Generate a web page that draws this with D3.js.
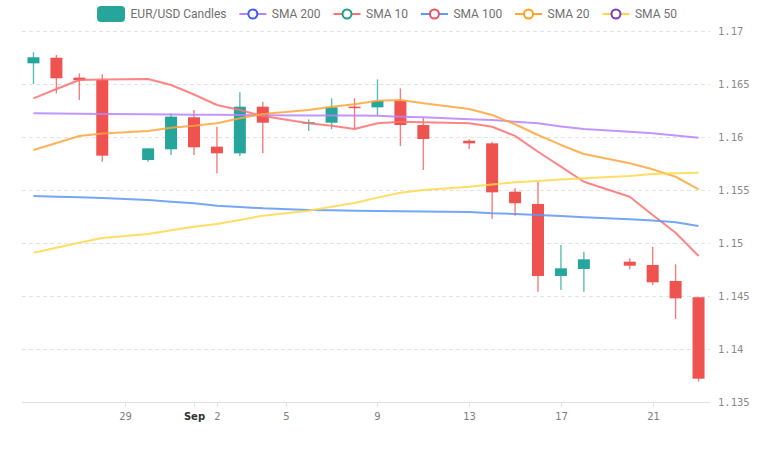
<!DOCTYPE html>
<html>
<head>
<meta charset="utf-8">
<script src="https://cdn.jsdelivr.net/npm/d3@7"></script>
<style>
  html, body { margin: 0; padding: 0; background: #fff; }
  #chart { width: 770px; height: 463px; }
</style>
</head>
<body>
<div id="chart"></div>
<script>
// --- Data ---
const dates = [
  "2025-08-25", "2025-08-26", "2025-08-27", "2025-08-28", "2025-08-30", "2025-08-31",
  "2025-09-01", "2025-09-02", "2025-09-03", "2025-09-04", "2025-09-06", "2025-09-07",
  "2025-09-08", "2025-09-09", "2025-09-10", "2025-09-11", "2025-09-13", "2025-09-14",
  "2025-09-15", "2025-09-16", "2025-09-17", "2025-09-18", "2025-09-20", "2025-09-21",
  "2025-09-22", "2025-09-23"
];
const open = [
  1.16695, 1.16748, 1.16560, 1.16538, 1.15783, 1.15884, 1.16186, 1.15909, 1.15846, 1.16286,
  1.16135, 1.16135, 1.16286, 1.16280, 1.16342, 1.16113, 1.15965, 1.15940, 1.15484, 1.15368,
  1.14689, 1.14755, 1.14824, 1.14793, 1.14642, 1.14488
];
const high = [
  1.16799, 1.16774, 1.16600, 1.16592, 1.15895, 1.16224, 1.16255, 1.16097, 1.16422, 1.16333,
  1.16167, 1.16365, 1.16365, 1.16544, 1.16459, 1.16182, 1.15978, 1.15956, 1.15516, 1.15578,
  1.14981, 1.14918, 1.14856, 1.14965, 1.14799, 1.14493
];
const low = [
  1.16500, 1.16412, 1.16349, 1.15767, 1.15767, 1.15830, 1.15830, 1.15658, 1.15821, 1.15846,
  1.16057, 1.16073, 1.16082, 1.16198, 1.15915, 1.15689, 1.15887, 1.15226, 1.15258, 1.14541,
  1.14557, 1.14541, 1.14752, 1.14604, 1.14283, 1.13692
];
const close = [
  1.16752, 1.16554, 1.16535, 1.15824, 1.15893, 1.16192, 1.15903, 1.15846, 1.16286, 1.16135,
  1.16140, 1.16280, 1.16277, 1.16342, 1.16113, 1.15981, 1.15940, 1.15478, 1.15375, 1.14689,
  1.14761, 1.14846, 1.14786, 1.14629, 1.14478, 1.13720
];

const sma200 = [
  1.16224, 1.16222, 1.16220, 1.16218, 1.16215, 1.16213, 1.16211, 1.16209, 1.16207, 1.16206,
  1.16204, 1.16203, 1.16202, 1.16201, 1.16192, 1.16186, 1.16168, 1.16160, 1.16145, 1.16129,
  1.16100, 1.16075, 1.16050, 1.16035, 1.16015, 1.15993
];
const sma10 = [
  1.16365, 1.16453, 1.16538, 1.16542, 1.16547, 1.16491, 1.16401, 1.16302, 1.16255, 1.16198,
  1.16129, 1.16107, 1.16075, 1.16129, 1.16144, 1.16139, 1.16129, 1.16097, 1.16010, 1.15861,
  1.15720, 1.15578, 1.15437, 1.15264, 1.15097, 1.14877
];
const sma100 = [
  1.15443, 1.15437, 1.15431, 1.15424, 1.15406, 1.15390, 1.15375, 1.15352, 1.15340, 1.15327,
  1.15311, 1.15308, 1.15305, 1.15302, 1.15300, 1.15298, 1.15292, 1.15280, 1.15274, 1.15265,
  1.15255, 1.15242, 1.15224, 1.15212, 1.15195, 1.15160
];
const sma20 = [
  1.15877, 1.15943, 1.16009, 1.16033, 1.16057, 1.16088, 1.16107, 1.16129, 1.16176, 1.16217,
  1.16255, 1.16286, 1.16308, 1.16342, 1.16349, 1.16318, 1.16264, 1.16208, 1.16120, 1.16019,
  1.15925, 1.15840, 1.15752, 1.15695, 1.15625, 1.15507
];
const sma50 = [
  1.14908, 1.14955, 1.15003, 1.15048, 1.15085, 1.15120, 1.15154, 1.15179, 1.15218, 1.15258,
  1.15305, 1.15342, 1.15377, 1.15428, 1.15475, 1.15500, 1.15531, 1.15552, 1.15573, 1.15585,
  1.15598, 1.15610, 1.15632, 1.15651, 1.15658, 1.15663
];

const yTicks = [1.135, 1.14, 1.145, 1.15, 1.155, 1.16, 1.165, 1.17];
const xTickDates = ["2025-08-29", "2025-09-01", "2025-09-02", "2025-09-05", "2025-09-09", "2025-09-13", "2025-09-17", "2025-09-21"];
const xTickLabels = ["29", "Sep", "2", "5", "9", "13", "17", "21"];

// series: name, line colour (chart + legend), legend circle colour
const seriesNames = ["SMA 200", "SMA 10", "SMA 100", "SMA 20", "SMA 50"];
const seriesValues = [sma200, sma10, sma100, sma20, sma50];
const lineColors = ["#b983ff", "#ff7070", "#5e97f6", "#ffa53b", "#ffd84a"];
const markerColors = ["#3f5efb", "#1f9e89", "#ef4f5f", "#ff9f1a", "#7d3cb5"];

const upColor = "#26a69a";
const downColor = "#ef5350";

// --- Chart ---
const width = 770;
const height = 463;
const plot = { left: 22, right: 710, top: 31, bottom: 402 };

const parse = (s) => new Date(s + "T00:00:00Z");
const dayMs = 86400000;

const candles = dates.map((d, i) => ({
  date: parse(d),
  open: open[i],
  high: high[i],
  low: low[i],
  close: close[i]
}));

const x = d3
  .scaleUtc()
  .domain([new Date(parse(dates[0]).getTime() - dayMs / 2), new Date(parse(dates[dates.length - 1]).getTime() + dayMs / 2)])
  .range([plot.left, plot.right]);

const y = d3.scaleLinear().domain([1.135, 1.17]).range([plot.bottom, plot.top]);

const svg = d3
  .select("#chart")
  .append("svg")
  .attr("width", width)
  .attr("height", height)
  .style("font-family", "Roboto, sans-serif");

// Grid lines (dashed) + bottom axis line
svg
  .append("g")
  .selectAll("line")
  .data(yTicks.filter((t) => t !== 1.135))
  .join("line")
  .attr("x1", plot.left)
  .attr("x2", plot.right)
  .attr("y1", (d) => Math.round(y(d)) + 0.5)
  .attr("y2", (d) => Math.round(y(d)) + 0.5)
  .attr("stroke", "#e3e3e3")
  .attr("stroke-dasharray", "4,3");

svg
  .append("line")
  .attr("x1", plot.left)
  .attr("x2", plot.right)
  .attr("y1", Math.round(y(1.135)) + 0.5)
  .attr("y2", Math.round(y(1.135)) + 0.5)
  .attr("stroke", "#e0e0e0");

// Y labels on the right
svg
  .append("g")
  .selectAll("text")
  .data(yTicks)
  .join("text")
  .attr("x", 718)
  .attr("y", (d) => y(d))
  .attr("dy", "0.35em")
  .attr("font-family", "'DejaVu Sans Mono', monospace")
  .attr("font-size", 10.5)
  .attr("fill", "#8a8a8a")
  .text((d) => d3.format("~g")(d));

// X ticks + labels
const xTicks = svg
  .append("g")
  .selectAll("g")
  .data(xTickDates.map((d, i) => ({ date: parse(d), label: xTickLabels[i] })))
  .join("g")
  .attr("transform", (d) => `translate(${Math.round(x(d.date)) + 0.5},0)`);

xTicks
  .append("line")
  .attr("y1", plot.bottom)
  .attr("y2", plot.bottom + 5)
  .attr("stroke", "#e0e0e0");

xTicks
  .append("text")
  .attr("y", 420)
  .attr("text-anchor", "middle")
  .attr("font-family", "'DejaVu Sans', sans-serif")
  .attr("font-size", 10)
  .attr("font-weight", (d) => (d.label === "Sep" ? "bold" : "normal"))
  .attr("fill", (d) => (d.label === "Sep" ? "#333" : "#808080"))
  .text((d) => d.label);

// --- Candles ---
const bodyWidth = 12;
const candle = svg
  .append("g")
  .selectAll("g")
  .data(candles)
  .join("g")
  .attr("transform", (d) => `translate(${x(d.date)},0)`);

candle
  .append("line")
  .attr("y1", (d) => y(d.high))
  .attr("y2", (d) => y(d.low))
  .attr("stroke", (d) => (d.close >= d.open ? upColor : downColor))
  .attr("stroke-width", 1.4)
  .attr("stroke-opacity", 0.75);

candle
  .append("rect")
  .attr("x", -bodyWidth / 2)
  .attr("width", bodyWidth)
  .attr("y", (d) => y(Math.max(d.open, d.close)))
  .attr("height", (d) => Math.max(1.5, Math.abs(y(d.open) - y(d.close))))
  .attr("fill", (d) => (d.close >= d.open ? upColor : downColor));

// --- SMA lines ---
const line = d3
  .line()
  .x((d, i) => x(candles[i].date))
  .y((d) => y(d));

svg
  .append("g")
  .selectAll("path")
  .data(seriesValues)
  .join("path")
  .attr("d", line)
  .attr("fill", "none")
  .attr("stroke", (d, i) => lineColors[i])
  .attr("stroke-width", 2)
  .attr("stroke-opacity", 0.85)
  .attr("stroke-linejoin", "round");

// --- Legend ---
const legend = svg.append("g");
const items = [{ name: "EUR/USD Candles", type: "rect" }].concat(
  seriesNames.map((n, i) => ({ name: n, type: "line", line: lineColors[i], marker: markerColors[i] }))
);
const itemGap = 12.9;

let cursor = 0;
items.forEach((item) => {
  const g = legend.append("g").attr("transform", `translate(${cursor},0)`);
  let markerW;
  if (item.type === "rect") {
    markerW = 28;
    g.append("rect")
      .attr("x", 0)
      .attr("y", 6)
      .attr("width", 28)
      .attr("height", 16)
      .attr("rx", 4)
      .attr("fill", upColor);
  } else {
    markerW = 27;
    g.append("line")
      .attr("x1", 0)
      .attr("x2", 27)
      .attr("y1", 14)
      .attr("y2", 14)
      .attr("stroke", item.line)
      .attr("stroke-width", 2);
    g.append("circle")
      .attr("cx", 13.5)
      .attr("cy", 14)
      .attr("r", 4.5)
      .attr("fill", "#fff")
      .attr("stroke", item.marker)
      .attr("stroke-width", 2);
  }
  const t = g
    .append("text")
    .attr("x", markerW + 5.5)
    .attr("y", 14)
    .attr("dy", "0.35em")
    .attr("font-size", 12)
    .attr("fill", "#707070")
    .text(item.name);
  cursor += markerW + 5.5 + t.node().getComputedTextLength() + itemGap;
});
const legendWidth = cursor - itemGap;
legend.attr("transform", `translate(${387 - legendWidth / 2},0)`);
</script>
</body>
</html>
